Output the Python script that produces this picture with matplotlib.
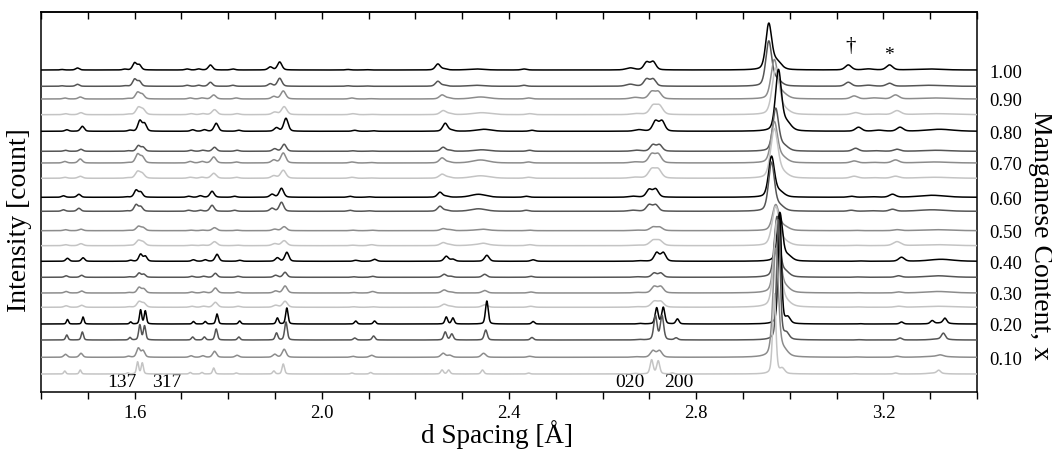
import numpy as np
import matplotlib
matplotlib.use('Agg')
import matplotlib.pyplot as plt
from matplotlib.ticker import MultipleLocator

plt.rcParams['font.family'] = ['Liberation Serif', 'DejaVu Serif']

# manganese content of each pattern, top to bottom
mn_content = [1.00, 0.95, 0.90, 0.85, 0.80, 0.75, 0.70, 0.65, 0.60, 0.55,
              0.50, 0.45, 0.40, 0.35, 0.30, 0.25, 0.20, 0.15, 0.10, 0.05]
# vertical offset of each pattern (counts)
baselines = [322, 305.7, 293, 277.3, 260.7, 240.7, 229, 213.7, 194.7, 180.7,
             161.3, 146.3, 130.7, 114.7, 99, 84.7, 68, 52, 34.7, 18]
# lattice scale of each pattern relative to x = 1.00
lattice = [1.000, 1.000, 1.004, 1.005, 1.007, 1.005, 1.004, 1.004, 1.002, 1.002,
           1.005, 1.005, 1.008, 1.006, 1.006, 1.006, 1.008, 1.007, 1.005, 1.004]
# peak broadening of each pattern
broadening = [1.0, 1.0, 1.1, 1.2, 1.0, 1.0, 1.1, 1.2, 1.0, 1.0,
              1.1, 1.2, 0.9, 0.9, 1.0, 1.1, 0.55, 0.6, 0.9, 0.55]
shades = ['#000000', '#555555', '#8c8c8c', '#c4c4c4']

# reflections: (d at x=1.00, width factor, height in each pattern)
peaks = [
    (1.445, 1.0, [0.5, 0.5, 1, 1, 1.5, 1, 1.5, 1, 1.5, 1.5, 1, 1, 3, 1.5, 1.5, 1.5, 4.5, 5, 3, 3]),
    (1.478, 1.0, [2, 2, 2, 2, 5, 2, 4, 2, 3, 3, 1.5, 2, 3.5, 2, 2, 2, 7, 8, 4, 4]),
    (1.579, 1.0, [0.8, 0.5, 0.5, 0.5, 1, 0.5, 0.5, 0.5, 0.5, 0.5, 0.3, 0.3, 1, 0.5, 0.5, 0.5, 2, 2.5, 1, 1]),
    (1.600, 1.0, [7, 7, 6.5, 7, 10.5, 5.5, 8.5, 6.5, 7, 6.5, 4.2, 5, 7, 4.2, 5.5, 5.5, 14, 15, 9, 12]),
    (1.610, 1.0, [5, 5, 4.5, 5, 7.5, 4, 6, 4.5, 5, 4.5, 3, 3.5, 5, 3, 4, 4, 13, 14, 6.5, 11]),
    (1.712, 1.0, [1, 1, 1, 1, 1.5, 1, 1.5, 1, 1, 1, 0.5, 0.5, 1.5, 1, 1, 1, 2.5, 3, 1.5, 1.5]),
    (1.737, 1.0, [1, 1, 1, 1, 1.5, 1, 1.5, 1, 1.5, 1, 0.5, 0.5, 1.5, 1, 1, 1, 2.5, 3, 1.5, 1.5]),
    (1.762, 1.0, [5, 4, 4, 5, 8, 4, 6, 5, 6, 6, 3, 4, 7, 4, 5, 5, 10, 11, 6, 6]),
    (1.810, 1.0, [1, 1, 1, 1, 1, 1, 1, 1, 1, 1, 0.5, 0.5, 1, 1, 1, 1, 3, 3, 2, 1]),
    (1.890, 1.0, [3, 2.5, 2.5, 2.5, 3.5, 2.5, 3, 2.5, 3, 3, 1.5, 2, 3.5, 2, 2, 2, 6, 7, 3, 3]),
    (1.910, 1.0, [8, 8, 8, 8, 13, 7, 10, 8, 9, 9, 4, 5, 9, 5, 7, 6, 16, 18, 8, 10]),
    (2.056, 1.0, [0.5, 0.5, 1, 1, 1, 0.5, 1, 1, 1, 1, 0.5, 0.5, 1, 0.5, 0.5, 0.5, 3, 2, 1, 1]),
    (2.096, 1.0, [0.3, 0.3, 0.3, 0.3, 0.5, 0.3, 0.5, 0.3, 0.5, 0.5, 0.5, 1, 2, 1, 1.5, 0.5, 3, 4, 2, 1.5]),
    (2.248, 1.0, [6, 5, 4, 4, 8, 4, 5, 4, 5, 5, 2, 3, 5, 3, 3, 3, 7, 8, 4, 4]),
    (2.262, 1.0, [1, 1, 1, 1, 1, 1, 1, 1, 1, 1, 1, 1, 2, 1, 1, 1, 6, 6, 2, 4]),
    (2.330, 3.0, [1, 1, 2, 2, 2, 1.5, 3, 2.5, 3, 2.5, 1, 1.5, 0, 0, 0, 0, 0, 0, 0, 0]),
    (2.334, 1.0, [0, 0, 0, 0, 0, 0, 0, 0, 0, 0, 0.5, 1, 6, 3, 2.5, 2.5, 23, 10, 4, 4]),
    (2.432, 1.0, [1, 1, 1, 1, 1, 1, 1, 1, 1, 1, 0.5, 1, 1.5, 1, 1, 1, 2.5, 2.5, 1, 1]),
    (2.659, 1.5, [2, 2, 1.5, 1, 1.5, 1, 1, 1, 1, 1, 0.5, 0.5, 0.5, 0.5, 0.5, 0.5, 0.5, 0.5, 0.5, 0.5]),
    (2.694, 1.0, [7.5, 7, 7, 8.5, 10, 6.3, 8.5, 8.5, 7.5, 6.3, 3.5, 5, 8.5, 4.2, 6.3, 5.6, 16, 24, 6.5, 14]),
    (2.708, 1.0, [8, 7, 7, 8.5, 10, 6.3, 8.5, 8.5, 8, 6.3, 3.5, 5, 8.5, 4.2, 6.3, 5.6, 16.5, 24, 6.5, 13]),
    (2.738, 1.0, [0, 0, 0, 0, 0, 0, 0, 0, 0, 0, 0, 0, 0, 0, 0, 0, 5, 2, 0, 1]),
    (2.955, 1.0, [45, 44, 38, 45, 60, 42, 40, 48, 40, 48, 25, 38, 48, 60, 72, 85, 110, 120, 108, 80]),
    (2.972, 1.5, [8, 6, 5, 5, 8, 5, 5, 5, 5, 5, 4, 4, 5, 5, 5, 5, 6, 6, 6, 5]),
    (3.125, 1.0, [5, 4, 3, 2, 4, 3, 2, 2, 1, 1, 0.3, 0.3, 0.3, 0.3, 0.3, 0.3, 0.3, 0.3, 0.3, 0.3]),
    (3.168, 1.5, [1, 1, 1, 0.5, 1, 0.5, 0.5, 0.5, 0.5, 0.5, 0, 0, 0, 0, 0, 0, 0, 0, 0, 0]),
    (3.213, 1.0, [5, 3, 4, 4, 4, 2, 3, 2, 3, 2, 1, 4, 4, 1.5, 1, 1, 2, 2, 1, 1]),
    (3.297, 4.0, [1, 1, 1, 1, 2, 1, 1, 1, 2, 1.5, 1, 1, 2, 1.5, 1.5, 1, 1, 1, 1, 1]),
    (3.278, 1.0, [0] * 16 + [3, 0, 0, 0]),
    (3.305, 1.0, [0] * 16 + [5, 6, 1.5, 3]),
]

d = np.linspace(1.4, 3.4, 5000)


def profile(center, fwhm):
    # pseudo-Voigt line shape, unit height
    g = np.exp(-4 * np.log(2) * ((d - center) / fwhm) ** 2)
    lor = 1.0 / (1 + 4 * ((d - center) / fwhm) ** 2)
    return 0.35 * lor + 0.65 * g


fig = plt.figure(figsize=(10.52, 4.52), dpi=100)
ax = fig.add_axes([41 / 1052, 59 / 452, 936 / 1052, 380 / 452])

for i in range(len(mn_content)):
    y = np.full_like(d, baselines[i])
    for d0, wf, h in peaks:
        c = d0 * lattice[i]
        y += h[i] * profile(c, (0.004 + 0.0037 * c) * wf * broadening[i])
    ax.plot(d, y, color=shades[i % 4], lw=1.1, zorder=2 + i)

ax.set_xlim(1.4, 3.4)
ax.set_ylim(0, 380)
ax.xaxis.set_major_locator(MultipleLocator(0.4))
ax.xaxis.set_minor_locator(MultipleLocator(0.1))
ax.xaxis.set_major_formatter(plt.FormatStrFormatter('%.1f'))
ax.tick_params(axis='x', which='both', direction='out', length=5, width=1,
               labelsize=13.5, pad=4)

top = ax.secondary_xaxis('top')
top.xaxis.set_major_locator(MultipleLocator(0.1))
top.tick_params(axis='x', which='both', direction='in', length=5, width=1,
                labeltop=False)

ax.yaxis.tick_right()
ax.set_yticks(baselines[::2])
ax.set_yticklabels(['%.2f' % m for m in mn_content[::2]])
ax.tick_params(axis='y', length=0, labelsize=13.5, pad=9)

for sp in ax.spines.values():
    sp.set_linewidth(1.1)
top.spines['top'].set_linewidth(1.1)

ax.text(1.572, 10, '137', fontsize=14, ha='center', va='center')
ax.text(1.668, 10, '317', fontsize=14, ha='center', va='center')
ax.text(2.659, 10, '020', fontsize=14, ha='center', va='center')
ax.text(2.762, 10, '200', fontsize=14, ha='center', va='center')
ax.text(3.129, 347, '\u2020', fontsize=15, ha='center', va='center')
ax.text(3.212, 337, '*', fontsize=14, ha='center', va='center')

fig.text(0.019, 0.513, 'Intensity [count]', rotation=90, fontsize=20,
         ha='center', va='center')
fig.text(0.4724, 0.019, 'd Spacing [\u00c5]', fontsize=19.5, ha='center',
         va='baseline')
fig.text(0.9886, 0.48, 'Manganese Content, x', rotation=-90, fontsize=20,
         ha='center', va='center')

fig.savefig('out.png', dpi=100)
